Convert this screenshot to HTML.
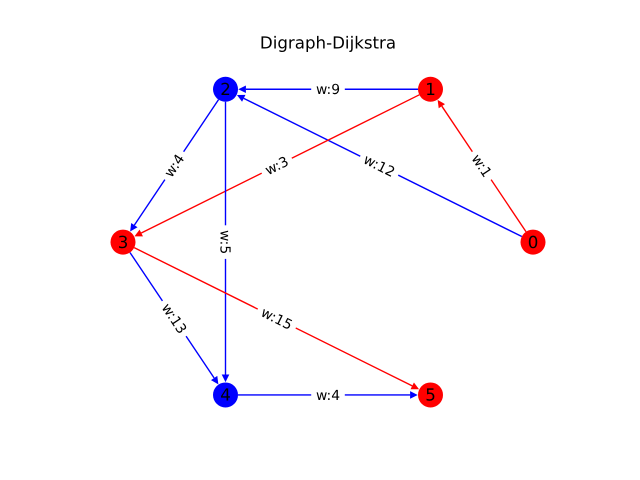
<!DOCTYPE html>
<html>
<head>
<meta charset="utf-8">
<title>Digraph-Dijkstra</title>
<style>
html,body{margin:0;padding:0;background:#fff;width:640px;height:480px;overflow:hidden}
svg{display:block}
text{font-family:"DejaVu Sans",sans-serif;fill:#000;text-rendering:geometricPrecision}
</style>
</head>
<body>
<svg id="chart" width="640" height="480" viewBox="0 0 640 480" xmlns="http://www.w3.org/2000/svg">
<rect width="640" height="480" fill="#fff"/>
<text x="328" y="48.7" text-anchor="middle" font-size="16.67">Digraph-Dijkstra</text>
</svg>
<script>
var nodeIds = [0, 1, 2, 3, 4, 5];
var nodeXs = [1, 0.5, -0.5, -1, -0.5, 0.5];
var nodeYs = [0, 0.866, 0.866, 0, -0.866, -0.866];
var nodeColors = ['#ff0000', '#ff0000', '#0000ff', '#ff0000', '#0000ff', '#ff0000'];
var edgeSources = [0, 0, 1, 1, 2, 2, 3, 3, 4];
var edgeTargets = [1, 2, 2, 3, 3, 4, 4, 5, 5];
var edgeWeights = [1, 12, 9, 3, 4, 5, 13, 15, 4];
var edgeColors = ['#ff0000', '#0000ff', '#0000ff', '#ff0000', '#0000ff', '#0000ff', '#0000ff', '#ff0000', '#0000ff'];

var NS = 'http://www.w3.org/2000/svg';
var svg = document.getElementById('chart');
function xAxis(v) { return 328 + 205 * v; }
function yAxis(v) { return 242.1 - 176.5 * v; }
function make(tag, attrs) {
  var el = document.createElementNS(NS, tag);
  for (var k in attrs) { el.setAttribute(k, attrs[k]); }
  return el;
}
var nodeR = 12.5, tipGap = 12.8, headLen = 7.6, headHalf = 3.8;

edgeSources.forEach(function (s, i) {
  var t = edgeTargets[i];
  var x1 = xAxis(nodeXs[s]), y1 = yAxis(nodeYs[s]);
  var x2 = xAxis(nodeXs[t]), y2 = yAxis(nodeYs[t]);
  var dx = x2 - x1, dy = y2 - y1, len = Math.sqrt(dx * dx + dy * dy);
  var ux = dx / len, uy = dy / len;
  var tipX = x2 - ux * tipGap, tipY = y2 - uy * tipGap;
  var baseX = tipX - ux * headLen, baseY = tipY - uy * headLen;
  var line = make('line', {
    x1: x1 + ux * nodeR, y1: y1 + uy * nodeR, x2: baseX, y2: baseY,
    stroke: edgeColors[i], 'stroke-width': 1.39
  });
  
  
  svg.appendChild(line);
  var head = make('polygon', {
    points: tipX + ',' + tipY + ' ' +
      (baseX - uy * headHalf) + ',' + (baseY + ux * headHalf) + ' ' +
      (baseX + uy * headHalf) + ',' + (baseY - ux * headHalf),
    fill: edgeColors[i]
  });
  
  
  svg.appendChild(head);
});

nodeIds.forEach(function (id, i) {
  var cx = xAxis(nodeXs[i]), cy = yAxis(nodeYs[i]);
  var c = make('circle', { cx: cx, cy: cy, r: nodeR, fill: nodeColors[i] });
  
  
  svg.appendChild(c);
  var tx = make('text', { x: cx, y: cy + 5.7, 'text-anchor': 'middle', 'font-size': 16.67 });
  
  
  tx.textContent = String(id);
  svg.appendChild(tx);
});

edgeSources.forEach(function (s, i) {
  var t = edgeTargets[i];
  var x1 = xAxis(nodeXs[s]), y1 = yAxis(nodeYs[s]);
  var x2 = xAxis(nodeXs[t]), y2 = yAxis(nodeYs[t]);
  var mx = (x1 + x2) / 2, my = (y1 + y2) / 2;
  var ang = Math.atan2(y2 - y1, x2 - x1) * 180 / Math.PI;
  if (ang > 90.01) { ang -= 180; }
  if (ang < -90.01) { ang += 180; }
  var g = make('g', { transform: 'translate(' + mx + ',' + my + ') rotate(' + ang + ')' });
  
  
  var box = make('rect', { fill: '#fff' });
  
  
  g.appendChild(box);
  var tx = make('text', { x: 0, y: 4.8, 'text-anchor': 'middle', 'font-size': 13.89 });
  
  
  tx.textContent = 'w:' + edgeWeights[i];
  g.appendChild(tx);
  svg.appendChild(g);
  var w = tx.getComputedTextLength() + 9.5;
  box.setAttribute('x', -w / 2);
  box.setAttribute('y', -10);
  box.setAttribute('width', w);
  box.setAttribute('height', 20);
});
</script>
</body>
</html>
